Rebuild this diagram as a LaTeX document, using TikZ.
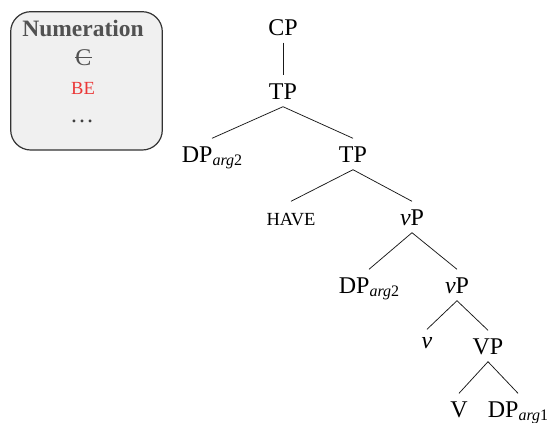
\documentclass[tikz,border=0pt]{standalone}
\usepackage{fontspec}
\setmainfont{Liberation Serif}

\definecolor{beRed}{RGB}{235,55,55}
\definecolor{boxFill}{RGB}{240,240,240}

% subscript "arg" + index
\newcommand{\subarg}[1]{\raisebox{-3pt}{\fontsize{16}{16}\selectfont\textit{arg}#1}}

\tikzset{
  catnode/.style={font=\fontsize{24}{28}\selectfont, anchor=base, inner xsep=0pt, inner ysep=7.5pt, text height=16pt, text depth=0pt},
  smallcat/.style={catnode, font=\fontsize{18.5}{22}\selectfont},
  branch/.style={line width=0.75pt, black!90},
  numtext/.style={anchor=base, inner sep=0pt, font=\fontsize{24}{28}\selectfont},
}

\begin{document}
\begin{tikzpicture}[x=1pt, y=-1pt]
    \useasboundingbox (0,0) rectangle (547,423);

    % Numeration box
    \draw[line width=1.2pt, black!80, fill=boxFill, rounded corners=20pt] (10.7,11.7) rectangle (162.3,150);
    \node[numtext, font=\bfseries\fontsize{23.5}{28}\selectfont, text=black!68] (numtitle) at (83,36) {Numeration};
    \node[numtext, text=black!68] (numC) at (83.5,65) {C};
    \draw[line width=0.9pt, black!68] (numC.west) -- (numC.east);
    \node[numtext, font=\fontsize{18.5}{22}\selectfont, text=beRed] (numBE) at (83,94) {BE};
    \node[numtext, text=black!75] (numdots) at (82,122) {\ldots};

    % tree nodes
    \node[catnode] (cp)   at (283,35)  {CP};
    \node[catnode] (tp)   at (283,99)  {TP};
    \node[catnode] (dpA)  at (212,162) {DP\subarg{2}};
    \node[catnode] (tpB)  at (353,162) {TP};
    \node[smallcat] (have) at (291,225) {HAVE};
    \node[catnode] (vpA)  at (412,225) {\textit{v}P};
    \node[catnode] (dpB)  at (369,293) {DP\subarg{2}};
    \node[catnode] (vpB)  at (457,293) {\textit{v}P};
    \node[catnode, text height=11pt] (vhead) at (427,348) {\textit{v}};
    \node[catnode] (vp)   at (488,354) {VP};
    \node[catnode] (vV)   at (459,417) {V};
    \node[catnode] (dpC)  at (518,417) {DP\subarg{1}};

    % branches
    \draw[branch] (cp.south) -- (tp.north);
    \draw[branch] (tp.south) -- (dpA.north);
    \draw[branch] (tp.south) -- (tpB.north);
    \draw[branch] (tpB.south) -- (have.north);
    \draw[branch] (tpB.south) -- (vpA.north);
    \draw[branch] (vpA.south) -- (dpB.north);
    \draw[branch] (vpA.south) -- (vpB.north);
    \draw[branch] (vpB.south) -- (vhead.north);
    \draw[branch] (vpB.south) -- (vp.north);
    \draw[branch] (vp.south) -- (vV.north);
    \draw[branch] (vp.south) -- (dpC.north);

\end{tikzpicture}
\end{document}
